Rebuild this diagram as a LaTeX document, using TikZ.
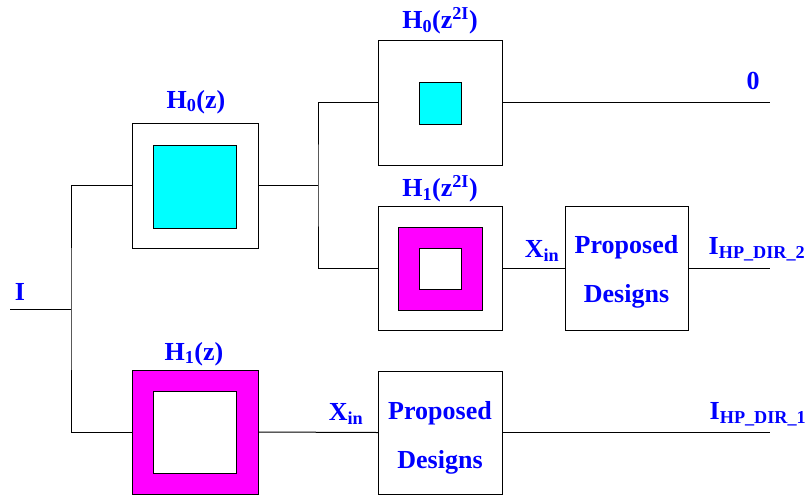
\documentclass[tikz,border=0pt]{standalone}
\usepackage{fontspec}
\newfontfamily\tnr{Liberation Serif}[BoldFont={Liberation Serif Bold}]
\definecolor{cy}{RGB}{0,255,255}
\definecolor{mg}{RGB}{255,0,255}
\definecolor{bl}{RGB}{0,0,255}
\begin{document}
\begin{tikzpicture}[x=1pt,y=-1pt,
  box/.style={draw=black,line width=1pt,inner sep=0pt,outer sep=0pt,fill=white},
  wire/.style={line width=1pt,draw=black},
  lbl/.style={text=bl,inner sep=0pt,font=\tnr\bfseries\fontsize{26}{30}\selectfont},
  pdtext/.style={text=bl,inner sep=0pt,align=center,font=\tnr\bfseries\fontsize{26}{49}\selectfont}]
\useasboundingbox (0,0) rectangle (808,496);
% filter boxes
\node[box,minimum width=126pt,minimum height=125pt] (H0) at (195,185.5) {};
\node[box,fill=cy,minimum width=83pt,minimum height=83pt] (H0in) at (194.5,186.5) {};
\node[box,fill=mg,minimum width=126pt,minimum height=124pt] (H1) at (195,432) {};
\node[box,minimum width=83pt,minimum height=82pt] (H1in) at (194.5,432) {};
\node[box,minimum width=124pt,minimum height=125pt] (A) at (440,102.5) {};
\node[box,fill=cy,minimum width=42pt,minimum height=42pt] (Ain) at (440,103) {};
\node[box,minimum width=124pt,minimum height=124pt] (B) at (440,268) {};
\node[box,fill=mg,minimum width=84pt,minimum height=83pt] (Bmid) at (440,268.5) {};
\node[box,minimum width=42pt,minimum height=41pt] (Bin) at (440,268.5) {};
\node[box,minimum width=123pt,minimum height=124pt] (P2) at (626.5,268) {};
\node[box,minimum width=124pt,minimum height=123pt] (P1) at (440,432.5) {};
\node[pdtext] (P2t) at (626.5,272) {Proposed\\Designs};
\node[pdtext] (P1t) at (440,438) {Proposed\\Designs};
% labels
\node[lbl] (lH0) at (196,102) {H\textsubscript{0}(z)};
\node[lbl] (lH1) at (194,354) {H\textsubscript{1}(z)};
\node[lbl] (lA) at (440,21) {H\textsubscript{0}(z\textsuperscript{2I})};
\node[lbl] (lB) at (440,189) {H\textsubscript{1}(z\textsuperscript{2I})};
\node[lbl] (lI) at (20,292) {I};
\node[lbl] (l0) at (753,81) {0};
\node[lbl] (lx2) at (542,251) {X\textsubscript{in}};
\node[lbl] (lx1) at (346,414) {X\textsubscript{in}};
\node[lbl] (lo2) at (757,249) {I\textsubscript{HP\_DIR\_2}};
\node[lbl] (lo1) at (758,414) {I\textsubscript{HP\_DIR\_1}};
% connectors
\coordinate (in) at (10,309);
\coordinate (j1) at (71,309);
\coordinate (j2) at (318,185.5);
\coordinate (o0) at (770,102.5);
\coordinate (o2) at (770,268);
\coordinate (o1) at (770,432.5);
\draw[wire] (in) -- (j1);
\draw[wire] (H0.west) -| (j1) |- (H1.west);
\draw[wire] (H0.east) -- (j2);
\draw[wire] (A.west) -| (j2) |- (B.west);
\draw[wire] (A.east) -- (o0);
\draw[wire] (B.east) -- (P2.west);
\draw[wire] (P2.east) -- (o2);
\draw[wire] (H1.east) -- (P1.west);
\draw[wire] (P1.east) -- (o1);
\end{tikzpicture}
\end{document}
